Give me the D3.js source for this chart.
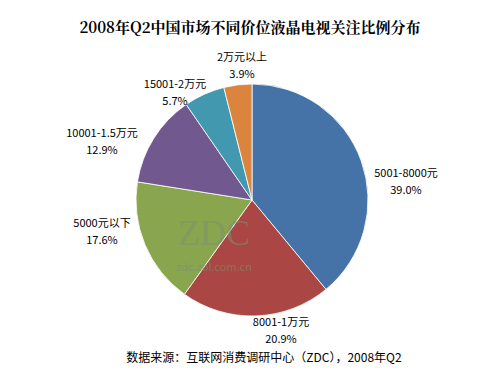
<!DOCTYPE html>
<html>
<head>
<meta charset="utf-8">
<script src="https://cdn.jsdelivr.net/npm/d3@7"></script>
<style>
body { margin: 0; background: #fff; }
svg text { font-family: "Noto Sans CJK SC", "DejaVu Sans", sans-serif; }
</style>
</head>
<body>
<svg id="chart" width="500" height="375"></svg>
<script>
// data, clockwise from 12 o'clock
const categories = ["5001-8000元", "8001-1万元", "5000元以下", "10001-1.5万元", "15001-2万元", "2万元以上"];
const shares = [39.0, 20.9, 17.6, 12.9, 5.7, 3.9];
const colors = ["#4572A7", "#AA4643", "#89A54E", "#71588F", "#4198AF", "#DB843D"];
// label anchor points (centre of the two-line label)
const labelPos = [[406, 181], [281, 330], [102, 231], [102, 141], [175, 92], [242, 65]];

const svg = d3.select("#chart");
const cx = 252, cy = 200, r = 116;

svg.append("text")
	.attr("x", 250).attr("y", 33)
	.attr("text-anchor", "middle")
	.style("font-size", "15px")
	.style("font-weight", "bold")
	.style("font-family", "'Noto Serif CJK SC', 'Noto Sans CJK SC', serif")
	.text("2008年Q2中国市场不同价位液晶电视关注比例分布");

const pie = d3.pie().sort(null).value(d => d);
const arc = d3.arc().innerRadius(0).outerRadius(r);

const g = svg.append("g").attr("transform", "translate(" + cx + "," + cy + ")");
g.selectAll("path")
	.data(pie(shares))
	.enter()
	.append("path")
	.attr("d", arc)
	.attr("fill", (d, i) => colors[i])
	.attr("stroke", "#fff")
	.attr("stroke-width", 0.8);

// watermark
svg.append("text")
	.attr("x", 214).attr("y", 245)
	.attr("text-anchor", "middle")
	.style("font-family", "'Liberation Serif', serif")
	.style("font-size", "36px")
	.attr("fill", "#7d9070")
	.attr("opacity", 0.55)
	.text("ZDC");
svg.append("text")
	.attr("x", 214).attr("y", 271)
	.attr("text-anchor", "middle")
	.style("font-size", "11px")
	.attr("fill", "#7d9070")
	.attr("opacity", 0.6)
	.text("zdc.zol.com.cn");

const labels = svg.selectAll(".lbl")
	.data(categories)
	.enter()
	.append("g")
	.attr("class", "lbl")
	.attr("transform", (d, i) => "translate(" + labelPos[i][0] + "," + labelPos[i][1] + ")");
labels.append("text")
	.attr("text-anchor", "middle")
	.attr("y", -4)
	.style("font-size", "11px")
	.attr("fill", "#000")
	.text(d => d);
labels.append("text")
	.attr("text-anchor", "middle")
	.attr("y", 13)
	.style("font-size", "11px")
	.attr("fill", "#000")
	.text((d, i) => shares[i].toFixed(1) + "%");

svg.append("text")
	.attr("x", 264).attr("y", 362)
	.attr("text-anchor", "middle")
	.style("font-size", "12px")
	.attr("fill", "#000")
	.text("数据来源：互联网消费调研中心（ZDC），2008年Q2");
</script>
</body>
</html>
